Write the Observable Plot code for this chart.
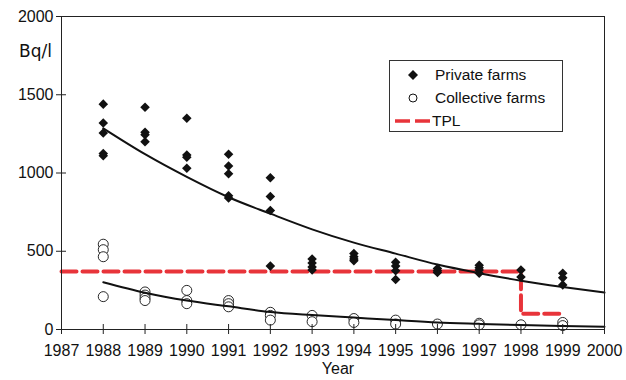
<!DOCTYPE html>
<html>
<head>
<meta charset="utf-8">
<script src="https://cdn.jsdelivr.net/npm/d3@7"></script>
<script src="https://cdn.jsdelivr.net/npm/@observablehq/plot@0.6"></script>
<style>
  body { margin: 0; background: white; }
  #wrap { position: relative; width: 626px; height: 380px; font-family: "Liberation Sans", Arial, sans-serif; }
  #legend { position: absolute; left: 389px; top: 60px; width: 172px; height: 70px; border: 1px solid #333; background: white; font-size: 15.5px; color: #111; }
  .row { position: absolute; left: 0; height: 22px; display: flex; align-items: center; }
  .row span { position: absolute; left: 45px; white-space: nowrap; }
  #unit { position: absolute; left: 19px; top: 43px; font-family: "DejaVu Sans", sans-serif; font-size: 17px; line-height: 17px; color: #111; }
</style>
</head>
<body>
<div id="wrap"></div>
<script>
// ---- data ----
const privateYears  = [1988,1988,1988,1988,1988, 1989,1989,1989,1989, 1990,1990,1990,1990, 1991,1991,1991,1991,1991, 1992,1992,1992,1992, 1993,1993,1993,1993, 1994,1994,1994,1994, 1995,1995,1995,1995, 1996,1996,1996, 1997,1997,1997,1997, 1998,1998, 1999,1999,1999];
const privateValues = [1440,1320,1255,1125,1110, 1420,1260,1245,1200, 1350,1115,1100,1030, 1120,1045,995,855,840, 970,850,760,405, 450,425,400,380, 485,465,450,440, 430,405,375,320, 390,375,365, 410,395,380,360, 380,335, 360,330,285];

const collectiveYears  = [1988,1988,1988,1988, 1989,1989,1989,1989, 1990,1990,1990, 1991,1991,1991, 1992,1992,1992, 1993,1993, 1994,1994, 1995,1995, 1996, 1997,1997, 1998, 1999,1999];
const collectiveValues = [545,510,465,210, 240,220,200,185, 250,185,165, 185,165,145, 110,90,60, 90,50, 70,45, 60,35, 35, 40,30, 30, 45,25];

const fitYears      = [1988,1989,1990,1991,1992,1993,1994,1995,1996,1997,1998,1999,2000];
const privateFit    = [1285,1120,975,845,740,640,555,485,415,360,312,272,236];
const collectiveFit = [302,235,185,148,112,92,76,60,45,36,28,22,17];

const tplYears  = [1987,1998,1998,1999];
const tplValues = [370,370,100,100];

const xTicks = [1987,1988,1989,1990,1991,1992,1993,1994,1995,1996,1997,1998,1999,2000];
const yTicks = [0,500,1000,1500,2000];

const seriesNames = ["Private farms", "Collective farms", "TPL"];
const xLabel = "Year";
const yUnit = "Bq/l";

// ---- build tables ----
const privatePts = privateYears.map((y,i)=>({year:y, value:privateValues[i]}));
const collectivePts = collectiveYears.map((y,i)=>({year:y, value:collectiveValues[i]}));
const privateLine = fitYears.map((y,i)=>({year:y, value:privateFit[i]}));
const collectiveLine = fitYears.map((y,i)=>({year:y, value:collectiveFit[i]}));
const tpl = tplYears.map((y,i)=>({year:y, value:tplValues[i]}));

const chart = Plot.plot({
  width: 626,
  height: 380,
  marginTop: 16,
  marginLeft: 61,
  marginRight: 22,
  marginBottom: 51,
  x: {domain: [1987, 2000]},
  y: {domain: [0, 2000]},
  style: {fontFamily: "'Liberation Sans', Arial, sans-serif", fontSize: "16px", color: "#111", background: "white"},
  marks: [
    Plot.line(tpl, {x: "year", y: "value", stroke: "#e8343a", strokeWidth: 4, strokeDasharray: "15,6"}),
    Plot.dot(collectivePts, {x: "year", y: "value", r: 5, stroke: "#111", strokeWidth: 0.9, fill: "white"}),
    Plot.line(collectiveLine, {x: "year", y: "value", stroke: "#111", strokeWidth: 2, curve: "monotone-x"}),
    Plot.dot(privatePts, {x: "year", y: "value", symbol: "diamond2", r: 4.3, fill: "#111", stroke: "none"}),
    Plot.line(privateLine, {x: "year", y: "value", stroke: "#111", strokeWidth: 2, curve: "monotone-x"}),
    Plot.frame({stroke: "#222"}),
    Plot.axisX(xTicks, {tickSize: 10, dy: -5, tickPadding: 10, tickFormat: d => String(d), label: null, stroke: "#222", fontSize: 16}),
    Plot.axisY(yTicks, {tickSize: 10, dx: 5, tickPadding: 3, tickFormat: d => String(d), label: null, stroke: "#222", fontSize: 16}),
    Plot.text([xLabel], {text: d => d, frameAnchor: "bottom", lineAnchor: "top", dx: 5, dy: 33, fontSize: 16})
  ]
});

const wrap = document.getElementById("wrap");
chart.style.position = "absolute";
chart.style.left = "0";
chart.style.top = "0";
wrap.appendChild(chart);

const unit = document.createElement("div");
unit.id = "unit";
unit.textContent = yUnit;
wrap.appendChild(unit);

// legend
const legend = document.createElement("div");
legend.id = "legend";
legend.innerHTML = `
  <div class="row" style="top:3px;width:172px">
    <svg width="40" height="22" style="position:absolute;left:0"><path d="M23,6 L28,11 L23,16 L18,11 Z" fill="#111"/></svg>
    <span>${seriesNames[0]}</span>
  </div>
  <div class="row" style="top:26px;width:172px">
    <svg width="40" height="22" style="position:absolute;left:0"><circle cx="23" cy="11" r="4" fill="white" stroke="#111" stroke-width="1"/></svg>
    <span>${seriesNames[1]}</span>
  </div>
  <div class="row" style="top:49px;width:172px">
    <svg width="45" height="22" style="position:absolute;left:0"><line x1="5" y1="11" x2="41" y2="11" stroke="#e8343a" stroke-width="3.5" stroke-dasharray="15,5"/></svg>
    <span style="left:42px">${seriesNames[2]}</span>
  </div>`;
wrap.appendChild(legend);
</script>
</body>
</html>
